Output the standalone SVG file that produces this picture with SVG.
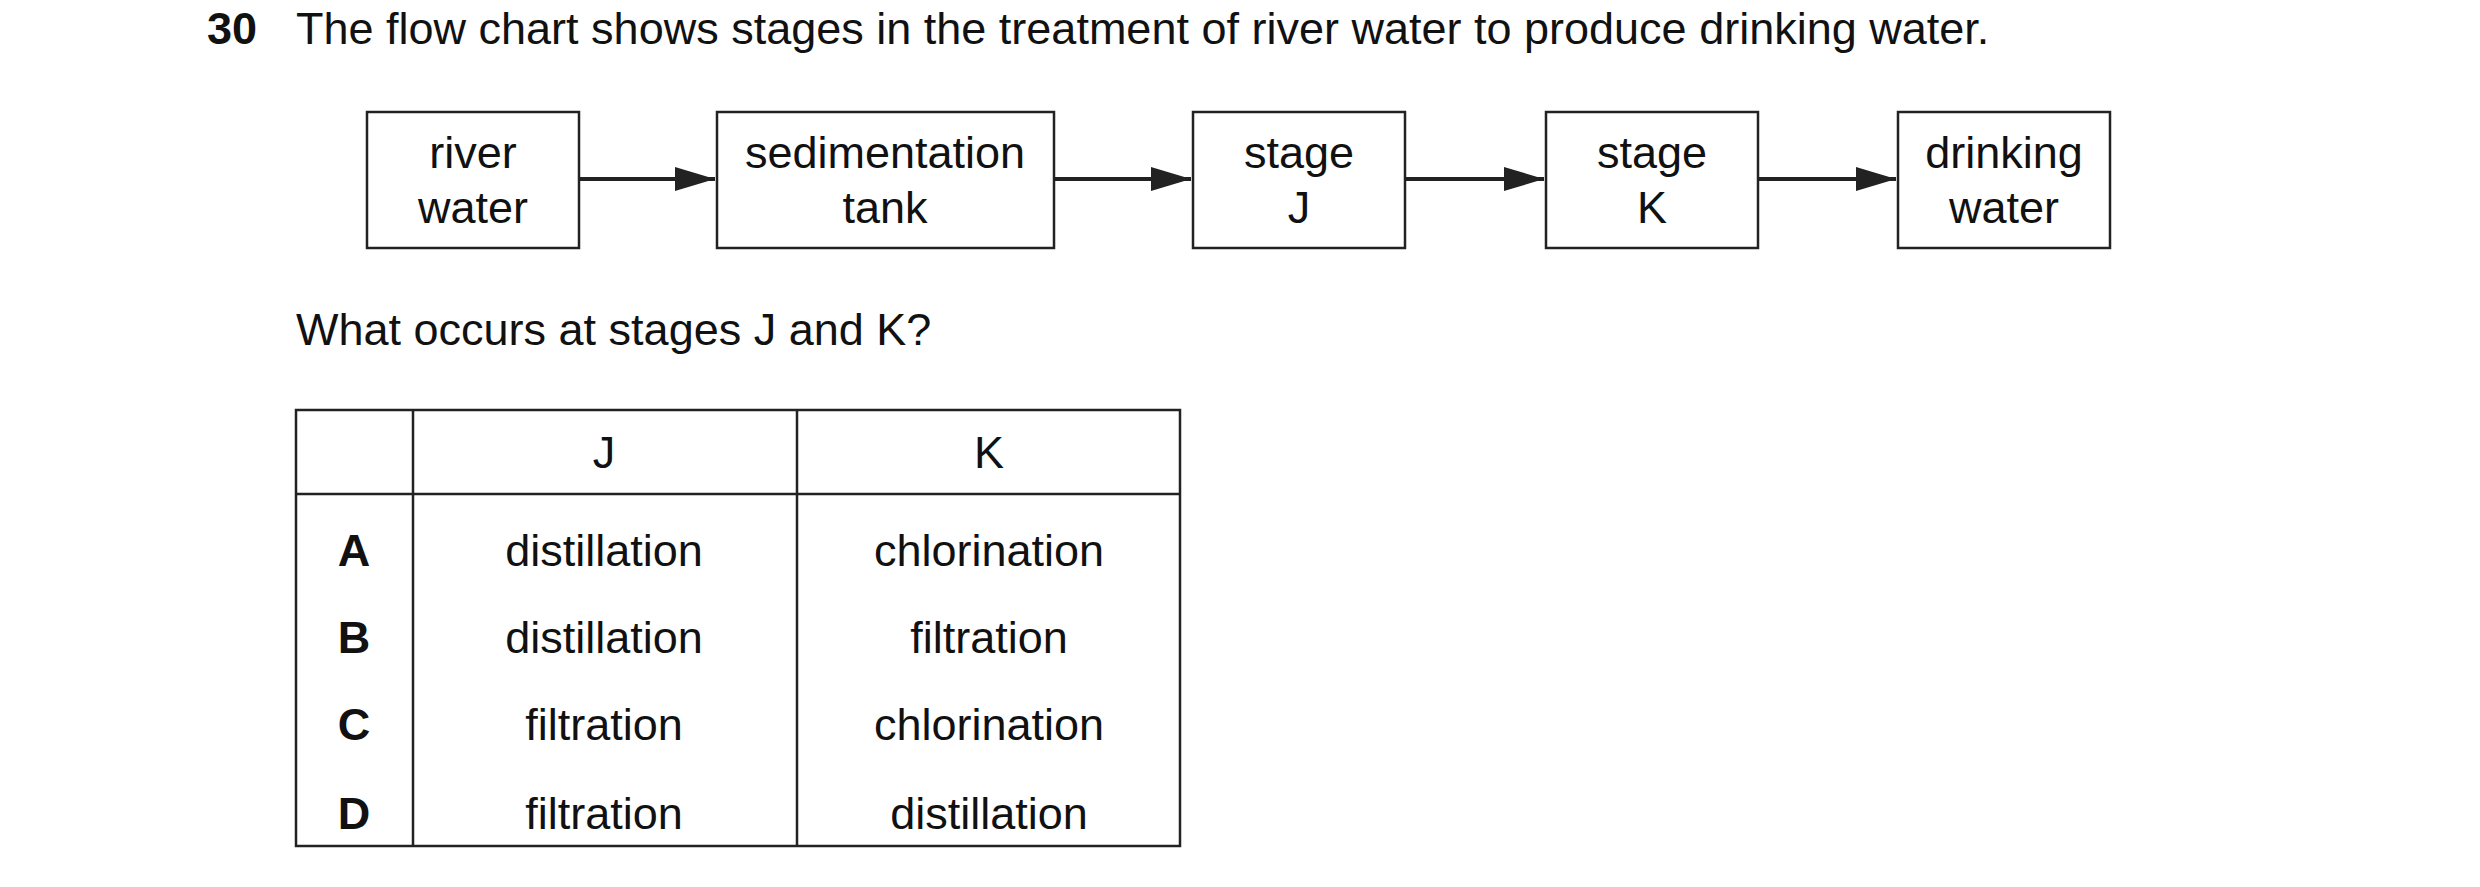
<svg xmlns="http://www.w3.org/2000/svg" width="2480" height="887" viewBox="0 0 2480 887">
<style>
text{font-family:"Liberation Sans",Arial,sans-serif;font-size:45px;fill:#111}
.c{text-anchor:middle}
.b{font-weight:bold}
.box{fill:#fff;stroke:#222;stroke-width:2.5}
.ln{stroke:#222;stroke-width:2.5;fill:none}
.ar{stroke:#222;stroke-width:4;fill:none;marker-end:url(#ah)}
</style>
<defs><marker id="ah" markerWidth="10" markerHeight="6" refX="10" refY="3" orient="auto" markerUnits="strokeWidth"><path d="M0,0L10,3L0,6z" fill="#222"/></marker></defs>
<rect width="2480" height="887" fill="#fff"/>
<text x="207" y="44" class="b">30</text>
<text x="296" y="44">The flow chart shows stages in the treatment of river water to produce drinking water.</text>
<g id="connectors">
<line class="ar" x1="579" y1="179" x2="715" y2="179"/>
<line class="ar" x1="1054" y1="179" x2="1191" y2="179"/>
<line class="ar" x1="1405" y1="179" x2="1544" y2="179"/>
<line class="ar" x1="1758" y1="179" x2="1896" y2="179"/>
</g>
<g id="river"><rect class="box" x="367" y="112" width="212" height="136"/><text class="c" x="473" y="168">river</text><text class="c" x="473" y="223">water</text></g>
<g id="sed"><rect class="box" x="717" y="112" width="337" height="136"/><text class="c" x="885" y="168">sedimentation</text><text class="c" x="885" y="223">tank</text></g>
<g id="stageJ"><rect class="box" x="1193" y="112" width="212" height="136"/><text class="c" x="1299" y="168">stage</text><text class="c" x="1299" y="223">J</text></g>
<g id="stageK"><rect class="box" x="1546" y="112" width="212" height="136"/><text class="c" x="1652" y="168">stage</text><text class="c" x="1652" y="223">K</text></g>
<g id="drink"><rect class="box" x="1898" y="112" width="212" height="136"/><text class="c" x="2004" y="168">drinking</text><text class="c" x="2004" y="223">water</text></g>
<text x="296" y="345">What occurs at stages J and K?</text>
<g id="table">
<rect class="ln" x="296" y="410" width="884" height="436"/>
<line class="ln" x1="413" y1="410" x2="413" y2="846"/>
<line class="ln" x1="797" y1="410" x2="797" y2="846"/>
<line class="ln" x1="296" y1="494" x2="1180" y2="494"/>
<text class="c" x="604" y="468">J</text><text class="c" x="989" y="468">K</text>
<text class="c b" x="354" y="566">A</text><text class="c" x="604" y="566">distillation</text><text class="c" x="989" y="566">chlorination</text>
<text class="c b" x="354" y="653">B</text><text class="c" x="604" y="653">distillation</text><text class="c" x="989" y="653">filtration</text>
<text class="c b" x="354" y="740">C</text><text class="c" x="604" y="740">filtration</text><text class="c" x="989" y="740">chlorination</text>
<text class="c b" x="354" y="829">D</text><text class="c" x="604" y="829">filtration</text><text class="c" x="989" y="829">distillation</text>
</g>
</svg>
